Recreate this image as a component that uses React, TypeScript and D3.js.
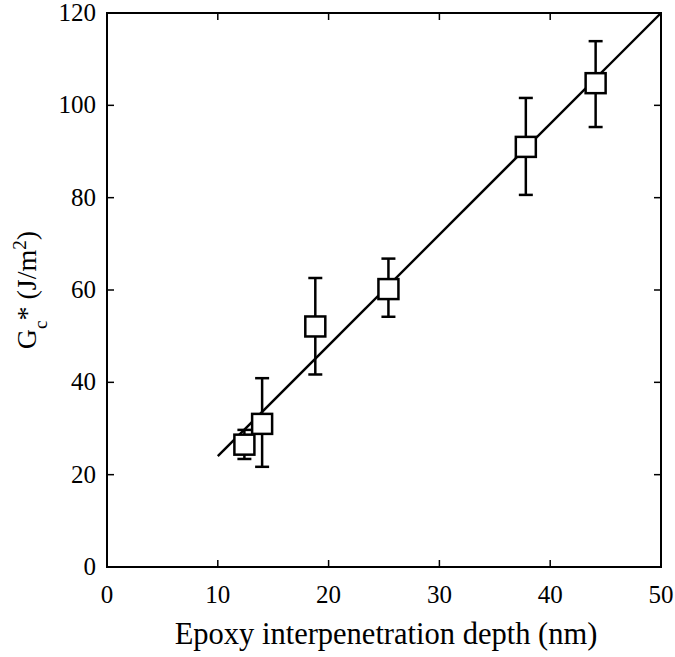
import React from "react";
import * as d3 from "d3";

// values
const depth = [12.4, 14.0, 18.8, 25.4, 37.8, 44.1];
const gc = [26.5, 31.0, 52.1, 60.2, 91.0, 104.8];
const errHi = [29.7, 40.9, 62.6, 66.8, 101.6, 113.9];
const errLo = [23.4, 21.7, 41.7, 54.2, 80.6, 95.3];
const fitX = [10, 50];
const fitY = [24, 120];
const xTicks = [0, 10, 20, 30, 40, 50];
const yTicks = [0, 20, 40, 60, 80, 100, 120];

const W = 675;
const H = 657;
const left = 107;
const right = 661;
const top = 13;
const bottom = 567;
const font = "'Liberation Serif', 'Times New Roman', serif";

const App = () => {
  const x = d3.scaleLinear().domain([0, 50]).range([left, right]);
  const y = d3.scaleLinear().domain([0, 120]).range([bottom, top]);
  const fit = d3
    .line<number>()
    .x((d) => x(d))
    .y((_, i) => y(fitY[i]));
  const tk = 7;
  const box = 20;
  const cap = 7;

  return (
    <div style={{ position: "absolute", left: 0, top: 0 }}>
      <svg width={W} height={H} style={{ display: "block", background: "#fff" }}>
        <rect x={left} y={top} width={right - left} height={bottom - top} fill="none" stroke="#000" strokeWidth={2} />
        {xTicks.map((t) => (
          <g key={"x" + t}>
            <line x1={x(t)} x2={x(t)} y1={bottom} y2={bottom - tk} stroke="#000" strokeWidth={1.5} />
            <line x1={x(t)} x2={x(t)} y1={top} y2={top + tk} stroke="#000" strokeWidth={1.5} />
            <text x={x(t)} y={bottom + 36} textAnchor="middle" fontFamily={font} fontSize={25}>
              {t}
            </text>
          </g>
        ))}
        {yTicks.map((t) => (
          <g key={"y" + t}>
            <line x1={left} x2={left + tk} y1={y(t)} y2={y(t)} stroke="#000" strokeWidth={1.5} />
            <line x1={right} x2={right - tk} y1={y(t)} y2={y(t)} stroke="#000" strokeWidth={1.5} />
            <text x={left - 11} y={y(t) + 8} textAnchor="end" fontFamily={font} fontSize={25}>
              {t}
            </text>
          </g>
        ))}
        <path d={fit(fitX) || ""} fill="none" stroke="#000" strokeWidth={2.4} />
        {depth.map((d, i) => (
          <g key={"p" + i} stroke="#000" strokeWidth={2.5}>
            <line x1={x(d)} x2={x(d)} y1={y(errHi[i])} y2={y(errLo[i])} />
            <line x1={x(d) - cap} x2={x(d) + cap} y1={y(errHi[i])} y2={y(errHi[i])} />
            <line x1={x(d) - cap} x2={x(d) + cap} y1={y(errLo[i])} y2={y(errLo[i])} />
            <rect x={x(d) - box / 2} y={y(gc[i]) - box / 2} width={box} height={box} fill="#fff" />
          </g>
        ))}
        <text x={(left + right) / 2 + 2} y={644} textAnchor="middle" fontFamily={font} fontSize={30.5}>
          Epoxy interpenetration depth (nm)
        </text>
        <text transform="translate(36,290) rotate(-90)" textAnchor="middle" fontFamily={font} fontSize={28}>
          G<tspan baselineShift="sub" fontSize={19}>c</tspan>
          <tspan>* (J/m</tspan>
          <tspan baselineShift="super" fontSize={19}>2</tspan>
          <tspan>)</tspan>
        </text>
      </svg>
    </div>
  );
};

export default App;
